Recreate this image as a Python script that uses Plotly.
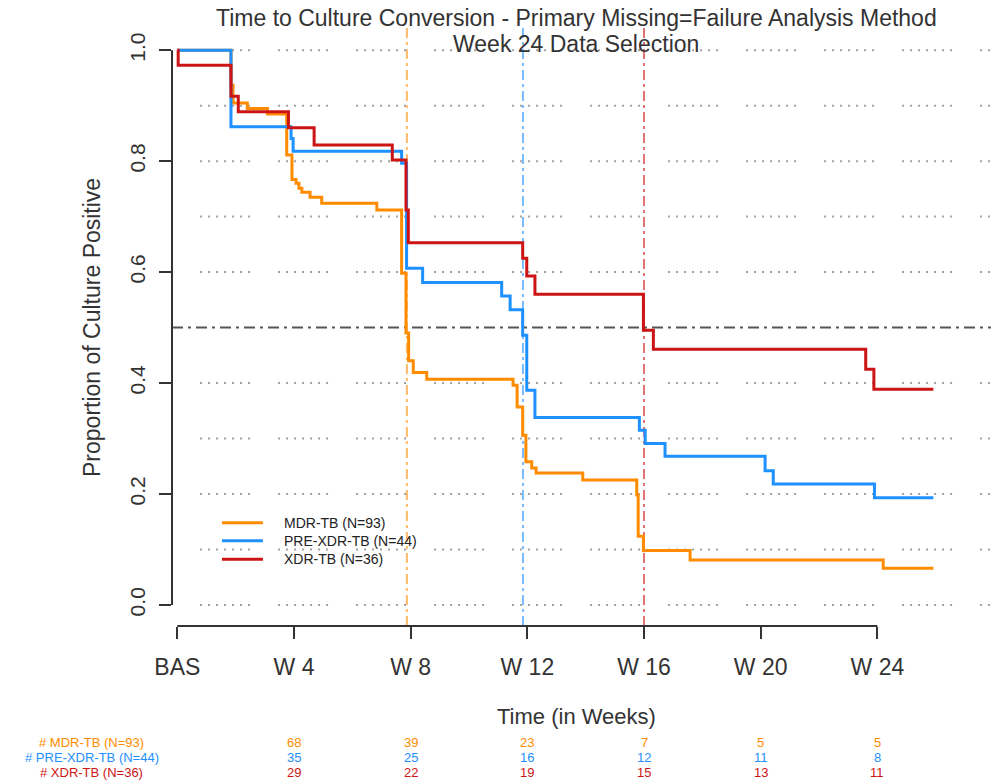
import plotly.graph_objects as go

# Kaplan-Meier style step estimates (time in weeks, proportion culture positive)
weeks_mdr = [0, 1.84, 1.91, 2.40, 3.09, 3.75, 3.93, 4.07, 4.17, 4.27, 4.55, 4.95, 6.84,
             7.69, 7.84, 7.93, 8.09, 8.55, 11.51, 11.65, 11.84, 11.95, 12.15, 12.30,
             13.90, 15.75, 15.80, 15.98, 17.58, 24.20, 25.92]
surv_mdr = [1.0, 0.937, 0.905, 0.895, 0.885, 0.811, 0.767, 0.760, 0.751, 0.744, 0.735, 0.724, 0.712,
            0.598, 0.490, 0.440, 0.419, 0.407, 0.396, 0.357, 0.306, 0.258, 0.247, 0.238,
            0.225, 0.198, 0.124, 0.098, 0.081, 0.066, 0.066]

weeks_pre = [0, 1.84, 3.90, 3.97, 7.69, 7.86, 8.41, 11.12, 11.41, 11.84, 11.98, 12.26,
             15.84, 16.04, 16.72, 20.15, 20.43, 23.90, 25.92]
surv_pre = [1.0, 0.862, 0.841, 0.818, 0.796, 0.607, 0.581, 0.557, 0.532, 0.486, 0.387, 0.338,
            0.315, 0.291, 0.268, 0.242, 0.218, 0.193, 0.193]

weeks_xdr = [0, 0.03, 1.84, 2.09, 3.81, 4.69, 7.37, 7.84, 7.92, 11.84, 11.98, 12.26,
             15.98, 16.32, 23.60, 23.88, 25.92]
surv_xdr = [1.0, 0.973, 0.917, 0.889, 0.860, 0.829, 0.802, 0.712, 0.653, 0.625, 0.593, 0.560,
            0.495, 0.461, 0.425, 0.389, 0.389]

group_names = ["MDR-TB (N=93)", "PRE-XDR-TB (N=44)", "XDR-TB (N=36)"]
group_colors = ["#FF8C00", "#1E90FF", "#CC1414"]
median_colors = ["rgba(255,140,0,0.6)", "rgba(30,144,255,0.6)", "rgba(204,20,20,0.6)"]
median_weeks = [7.87, 11.85, 16.0]

# Number at risk table
risk_weeks = [4, 8, 12, 16, 20, 24]
risk_mdr = [68, 39, 23, 7, 5, 5]
risk_pre = [35, 25, 16, 12, 11, 8]
risk_xdr = [29, 22, 19, 15, 13, 11]

tick_weeks = [0, 4, 8, 12, 16, 20, 24]
tick_week_labels = ["BAS", "W 4", "W 8", "W 12", "W 16", "W 20", "W 24"]
tick_props = [0, 0.2, 0.4, 0.6, 0.8, 1.0]
tick_prop_labels = ["0.0", "0.2", "0.4", "0.6", "0.8", "1.0"]
grid_props = [0, 0.1, 0.2, 0.3, 0.4, 0.6, 0.7, 0.8, 0.9, 1.0]

FONT = "Liberation Sans, Arial, Helvetica, sans-serif"
XMIN, XMAX = -0.182, 27.895
YMIN, YMAX = -0.038, 1.04

fig = go.Figure()

shapes = []
# dotted horizontal reference grid
grid_dash = "2px,6px,2px,6px,2px,6px,2px,6px,2px,6px,2px,6px,2px,28px"
for g in grid_props:
    shapes.append(dict(type="line", xref="x", yref="y", x0=0.78, x1=XMAX, y0=g, y1=g,
                       line=dict(color="#a0a0a0", width=2, dash=grid_dash), layer="below"))
# 50% reference line
shapes.append(dict(type="line", xref="paper", yref="y", x0=0, x1=1, y0=0.5, y1=0.5,
                   line=dict(color="#555555", width=2, dash="11px,5px,3px,5px"), layer="below"))
# median conversion times
for m, c in zip(median_weeks, median_colors):
    shapes.append(dict(type="line", xref="x", yref="paper", x0=m, x1=m, y0=0, y1=1,
                       line=dict(color=c, width=2, dash="10px,4px,3px,4px"), layer="below"))
# axis lines spanning only the tick range
shapes.append(dict(type="line", xref="x", yref="paper", x0=0, x1=24, y0=0, y1=0,
                   line=dict(color="#333333", width=2)))
shapes.append(dict(type="line", xref="paper", yref="y", x0=0, x1=0, y0=0, y1=1,
                   line=dict(color="#333333", width=2)))

for wk, sv, name, col in zip([weeks_mdr, weeks_pre, weeks_xdr], [surv_mdr, surv_pre, surv_xdr],
                             group_names, group_colors):
    fig.add_trace(go.Scatter(x=wk, y=sv, mode="lines", name=name, line_shape="hv",
                             line=dict(color=col, width=3), showlegend=False,
                             hoverinfo="skip"))

annotations = []
# title
annotations.append(dict(text="Time to Culture Conversion - Primary Missing=Failure Analysis Method",
                        xref="paper", yref="paper", x=0.4933, y=1.0167, xanchor="center", yanchor="middle",
                        showarrow=False, font=dict(family=FONT, size=23, color="#333333")))
annotations.append(dict(text="Week 24 Data Selection", xref="paper", yref="paper", x=0.4933, y=0.9732,
                        xanchor="center", yanchor="middle", showarrow=False,
                        font=dict(family=FONT, size=23, color="#333333")))
# axis titles
annotations.append(dict(text="Proportion of Culture Positive", xref="paper", yref="paper",
                        x=-0.0977, y=0.5, xanchor="center", yanchor="middle", textangle=-90,
                        showarrow=False, font=dict(family=FONT, size=23, color="#333333")))
annotations.append(dict(text="Time (in Weeks)", xref="paper", yref="paper", x=0.4933, y=-0.152,
                        xanchor="center", yanchor="middle", showarrow=False,
                        font=dict(family=FONT, size=22, color="#333333")))

# legend
legend_y = [0.1727, 0.1426, 0.1115]
for name, col, ly in zip(group_names, group_colors, legend_y):
    shapes.append(dict(type="line", xref="paper", yref="paper", x0=0.061, x1=0.111, y0=ly, y1=ly,
                       line=dict(color=col, width=3)))
    annotations.append(dict(text=name, xref="paper", yref="paper", x=0.1343, y=ly,
                            xanchor="left", yanchor="middle", showarrow=False,
                            font=dict(family=FONT, size=14, color="#222222")))

# number-at-risk rows
row_y = [-0.194, -0.2199, -0.2458]
for name, col, ry, counts in zip(group_names, group_colors, row_y, [risk_mdr, risk_pre, risk_xdr]):
    annotations.append(dict(text="# " + name, xref="paper", yref="paper", x=-0.0977, y=ry,
                            xanchor="center", yanchor="middle", showarrow=False, borderpad=0,
                            font=dict(family=FONT, size=13, color=col)))
    for wk, n in zip(risk_weeks, counts):
        annotations.append(dict(text=str(n), xref="x", yref="paper", x=wk, y=ry,
                                xanchor="center", yanchor="middle", showarrow=False, borderpad=0,
                                font=dict(family=FONT, size=13, color=col)))

fig.update_layout(
    width=991, height=784,
    margin=dict(l=172, r=0, t=28, b=158),
    paper_bgcolor="white", plot_bgcolor="white",
    shapes=shapes, annotations=annotations,
    xaxis=dict(range=[XMIN, XMAX], showgrid=False, zeroline=False, showline=False,
               tickmode="array", tickvals=tick_weeks, ticktext=tick_week_labels,
               ticks="outside", ticklen=12, tickwidth=2, tickcolor="#333333",
               ticklabelstandoff=8,
               tickfont=dict(family=FONT, size=23, color="#333333")),
    yaxis=dict(range=[YMIN, YMAX], showgrid=False, zeroline=False, showline=False,
               tickmode="array", tickvals=tick_props, ticktext=tick_prop_labels,
               ticks="outside", ticklen=12, tickwidth=2, tickcolor="#333333",
               tickangle=-90, ticklabelstandoff=6,
               tickfont=dict(family=FONT, size=21, color="#333333")),
)

fig.write_html("out.html")
